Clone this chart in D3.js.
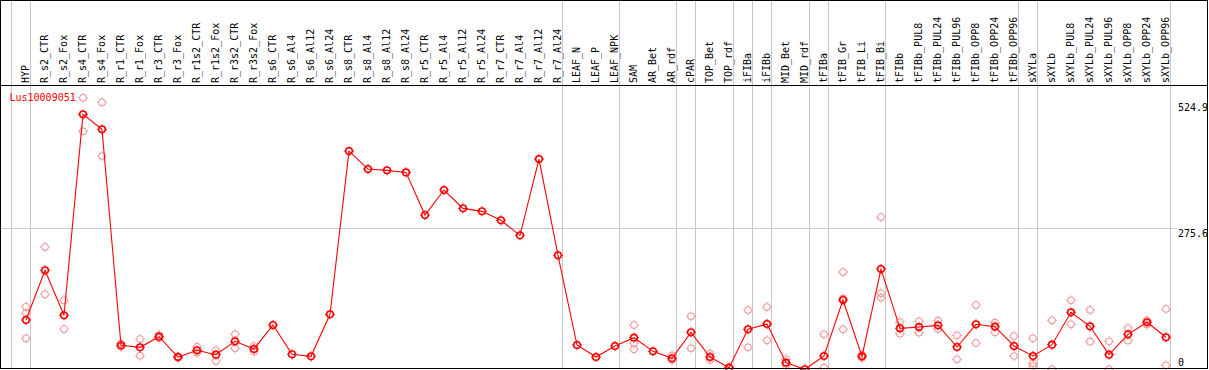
<!DOCTYPE html>
<html><head><meta charset="utf-8">
<script src="https://cdn.jsdelivr.net/npm/d3@7"></script>
<style>body{margin:0;background:#fff}svg{display:block}text{font-family:"DejaVu Sans Mono",monospace;font-size:10px}</style>
</head><body>
<script>
const categories = ["HYP","R_s2_CTR","R_s2_Fox","R_s4_CTR","R_s4_Fox","R_r1_CTR","R_r1_Fox","R_r3_CTR","R_r3_Fox","R_r1s2_CTR","R_r1s2_Fox","R_r3s2_CTR","R_r3s2_Fox","R_s6_CTR","R_s6_Al4","R_s6_Al12","R_s6_Al24","R_s8_CTR","R_s8_Al4","R_s8_Al12","R_s8_Al24","R_r5_CTR","R_r5_Al4","R_r5_Al12","R_r5_Al24","R_r7_CTR","R_r7_Al4","R_r7_Al12","R_r7_Al24","LEAF_N","LEAF_P","LEAF_NPK","SAM","AR_Bet","AR_rdf","cPAR","TOP_Bet","TOP_rdf","iFIBa","iFIBb","MID_Bet","MID_rdf","tFIBa","tFIB_Gr","tFIB_Li","tFIB_Bi","tFIBb","tFIBb_PUL8","tFIBb_PUL24","tFIBb_PUL96","tFIBb_OPP8","tFIBb_OPP24","tFIBb_OPP96","sXYLa","sXYLb","sXYLb_PUL8","sXYLb_PUL24","sXYLb_PUL96","sXYLb_OPP8","sXYLb_OPP24","sXYLb_OPP96"];
const means = [94.7,192.7,104,500.5,470.9,44.8,40.8,61.8,21.7,34.9,26.3,52.6,37.5,84.8,27,23,105.9,428.1,392.6,390,386,301.8,351.2,315,309.1,291.4,261.8,412.3,222.3,45.4,21.7,43.4,59.8,32.9,19.1,70.4,21.7,0.6,76.3,86.8,10.5,-2.5,23.7,134.1,23,195.3,78.3,80.9,84.2,41.4,86.2,81.5,43.4,23.7,46,109.9,82.3,26.3,66.4,90.2,60.6];
const replicates = [[120.9,107.9,58.6],[238.7,145.4],[133.6,76.9],[533.2,467],[524.2,418.2],[48.7,42],[57.2,24.3],[65,59],[23,20],[41.8,30],[34.9,13.8],[66.4,38.8],[43.4,32.2],[],[],[],[],[],[],[],[],[],[],[],[],[],[],[],[],[],[],[],[84.8,48.7,36.9],[],[25,15.8],[102,38.8],[28.3,15.8],[],[114.4,40.8],[120.3,54.6],[17.2,5.3],[],[66.4,0.6],[189.4,137.5,76.3],[26,20],[297.9,147.4,138.7],[90.7,67.7],[92.1,69.6],[93.3,76.9],[64.5,17.2],[124.3,49.3],[89.4,70.4],[63.1,23.7],[58.6,9.3,3.9],[94.1,-2.6],[133.6,86.2],[114.4,51.9],[52.6,-2.6],[78.9,53.9],[94.1,85.4],[116.4,5.3]];
const groupStarts = [0,1,29,32,35,36,38,39,40,42,43,46,53,54,61];
const yTicks = [524.9,275.6,0];
const geneLabel = "Lus10009051";

const W=1209,H=370;
const svg=d3.select("body").append("svg").attr("width",W).attr("height",H);
const x=d3.scaleLinear().domain([0,categories.length-1]).range([26,1166]);
const y=d3.scaleLinear().domain([0,524.9]).range([368,102]);
const crisp=v=>Math.floor(v)+0.5;

// vertical group separators
svg.selectAll("line.sep").data(groupStarts).join("line")
  .attr("x1",d=>crisp(x(d-0.75))).attr("x2",d=>crisp(x(d-0.75)))
  .attr("y1",0).attr("y2",368).attr("stroke","#c8c8c8").attr("stroke-width",1);
// horizontal grid at middle tick
svg.append("line").attr("x1",1).attr("x2",1177).attr("y1",crisp(y(yTicks[1]))).attr("y2",crisp(y(yTicks[1])))
  .attr("stroke","#c8c8c8");

// header labels
svg.selectAll("text.cat").data(categories).join("text")
  .attr("transform",(d,i)=>`translate(${x(i)+3},83) rotate(-90)`)
  .attr("text-anchor","start").attr("fill","#000").text(d=>d);

// y labels
svg.selectAll("text.yt").data(yTicks).join("text")
  .attr("x",1178).attr("y",d=>Math.min(y(d)+8.5,366)).attr("fill","#000").text(d=>d);

svg.append("text").attr("x",9.5).attr("y",101).attr("fill","#ff0000").text(geneLabel);

function marker(g,cx,cy,color,sw){
  g.append("circle").attr("cx",cx).attr("cy",cy).attr("r",3.3).attr("fill","none").attr("stroke",color).attr("stroke-width",sw);
  const t=[[0,-1],[0,1],[-1,0],[1,0]];
  t.forEach(([dx,dy])=>g.append("line").attr("x1",cx+dx*3.8).attr("y1",cy+dy*3.8).attr("x2",cx+dx*5).attr("y2",cy+dy*5).attr("stroke",color).attr("stroke-width",1));
}
const gr=svg.append("g");
replicates.forEach((arr,i)=>arr.forEach(v=>marker(gr,x(i),y(v),"#f09a9a",1.1)));

svg.append("path").datum(means).attr("fill","none").attr("stroke","#ff0000").attr("stroke-width",1.1)
  .attr("d",d3.line().x((d,i)=>x(i)).y(d=>y(d)));
const gm=svg.append("g");
means.forEach((v,i)=>marker(gm,x(i),y(v),"#ff0000",1.6));

// borders
const b=svg.append("g").attr("stroke","#000").attr("stroke-width",1);
b.append("line").attr("x1",0).attr("x2",1208).attr("y1",0.5).attr("y2",0.5);
b.append("line").attr("x1",0).attr("x2",1208).attr("y1",85.5).attr("y2",85.5);
b.append("line").attr("x1",0).attr("x2",1208).attr("y1",368.5).attr("y2",368.5);
b.append("line").attr("x1",0.5).attr("x2",0.5).attr("y1",0).attr("y2",369);
b.append("line").attr("x1",1207.5).attr("x2",1207.5).attr("y1",0).attr("y2",369);
</script>
</body></html>
